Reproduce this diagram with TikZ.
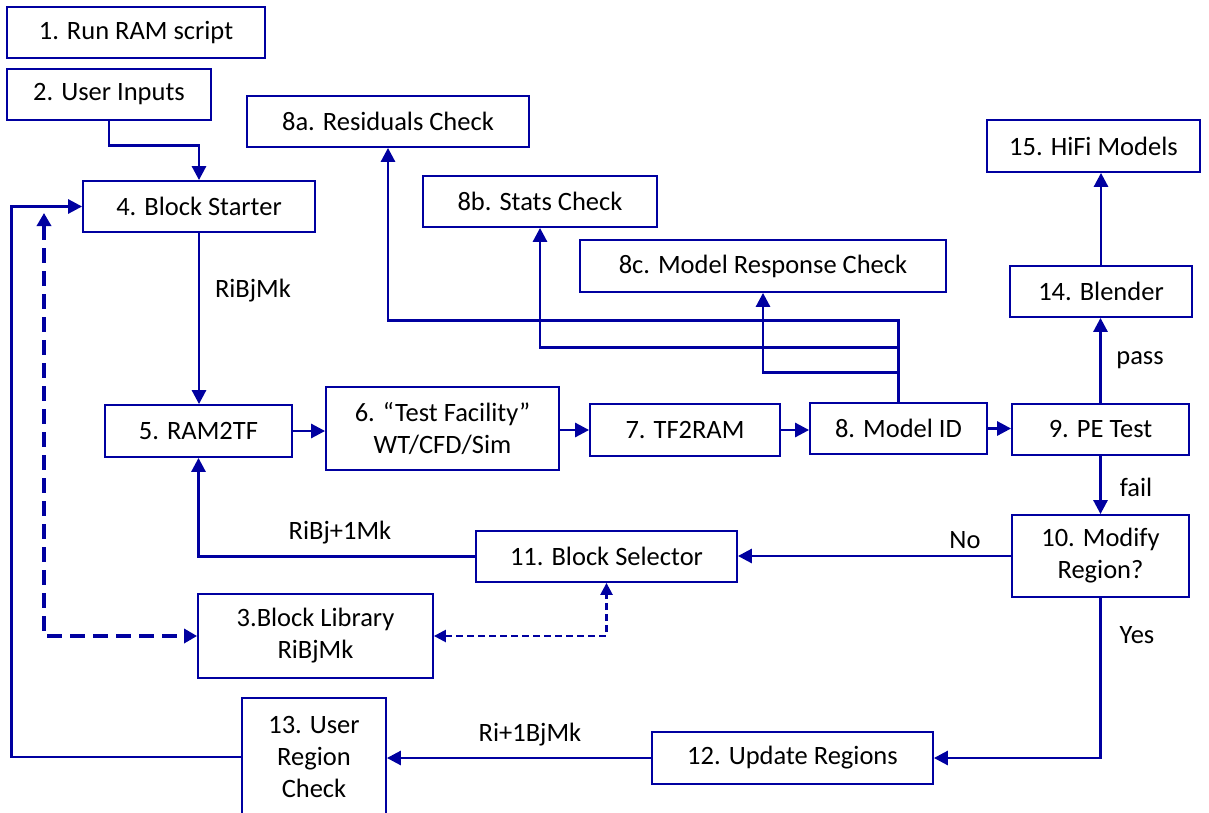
\documentclass[tikz,border=0pt]{standalone}
\usepackage{fontspec}
\setmainfont{Carlito}
\usetikzlibrary{arrows.meta}
\definecolor{flowblue}{RGB}{0,0,160}
\begin{document}
\begin{tikzpicture}[x=1pt,y=-1pt]
                \tikzstyle{every node}+=[font=\fontsize{26.5}{32}\selectfont, inner sep=0pt]
                \tikzstyle{box}=[draw=flowblue, line width=1.8pt, align=center]
                \tikzstyle{flow}=[draw=flowblue, line width=2.8pt, -{Triangle[length=14pt,width=14pt]}]
                \tikzstyle{libdash}=[draw=flowblue, line width=4.5pt, dash pattern=on 15pt off 8pt, {Triangle[length=13pt,width=14pt]}-{Triangle[length=13pt,width=14pt]}]
                \tikzstyle{seldash}=[draw=flowblue, line width=2.4pt, dash pattern=on 7pt off 4pt, {Triangle[length=12pt,width=12pt]}-{Triangle[length=12pt,width=12pt]}]
                \useasboundingbox (0,0) rectangle (1209,813);
                % boxes
                \node[box, minimum width=258, minimum height=51] (b1) at (136,32.5) {1. Run RAM script};
                \node[box, minimum width=204, minimum height=51] (b2) at (109,94.5) {2. User Inputs};
                \node[box, minimum width=282, minimum height=51] (b8a) at (388,121.5) {8a. Residuals Check};
                \node[box, minimum width=213, minimum height=52] (b15) at (1093.5,146) {15. HiFi Models};
                \node[box, minimum width=232, minimum height=51] (b4) at (199,206.5) {4. Block Starter};
                \node[box, minimum width=234, minimum height=51] (b8b) at (540,201.5) {8b. Stats Check};
                \node[box, minimum width=366, minimum height=52] (b8c) at (763,266) {8c. Model Response Check};
                \node[box, minimum width=182, minimum height=51] (b14) at (1101,291.5) {14. Blender};
                \node[box, minimum width=187, minimum height=52] (b5) at (198.5,431) {5. RAM2TF};
                \node[box, minimum width=233, minimum height=83] (b6) at (442.5,428.5) {6. “Test Facility”\\WT/CFD/Sim};
                \node[box, minimum width=190, minimum height=52] (b7) at (685,430) {7. TF2RAM};
                \node[box, minimum width=177, minimum height=51] (b8) at (898.5,428.5) {8. Model ID};
                \node[box, minimum width=177, minimum height=51] (b9) at (1100.5,429.5) {9. PE Test};
                \node[box, minimum width=177, minimum height=82] (b10) at (1100.5,556) {10. Modify\\Region?};
                \node[box, minimum width=261, minimum height=51] (b11) at (606.5,556.5) {11. Block Selector};
                \node[box, minimum width=235, minimum height=84] (b3) at (315.5,636) {3.Block Library\\RiBjMk};
                \node[box, minimum width=144, minimum height=118] (b13) at (314,757) {13. User\\Region\\Check};
                \node[box, minimum width=281, minimum height=52] (b12) at (792.5,758) {12. Update Regions};
                % labels
                \node (lstart) at (253,291) {RiBjMk};
                \node (lnextb) at (340,533) {RiBj+1Mk};
                \node (lnextr) at (530,735) {Ri+1BjMk};
                \node (lpass) at (1140,360) {pass};
                \node (lfail) at (1136,487) {fail};
                \node (lno) at (965,540) {No};
                \node (lyes) at (1137,635) {Yes};
                % connectors
                \draw[flow] (b2.south) -- ++(0,25) -| (b4.north);
                \draw[flow] (b4.south) -- (b4.south |- b5.north);
                \draw[flow] (b5.east) -- (b5.east -| b6.west);
                \draw[flow] (b6.east |- b7.west) -- (b7.west);
                \draw[flow] (b7.east) -- (b7.east -| b8.west);
                \draw[flow] (b8.east) -- (b8.east -| b9.west);
                \draw[flow] (b8.north) -- ++(0,-82) -| (b8a.south);
                \draw[flow] (b8.north) -- ++(0,-55) -| (b8b.south);
                \draw[flow] (b8.north) -- ++(0,-30) -| (b8c.south);
                \draw[flow] (b9.north) -- (b9.north |- b14.south);
                \draw[flow] (b14.north) -- (b14.north |- b15.south);
                \draw[flow] (b9.south) -- (b10.north);
                \draw[flow] (b10.west) -- (b10.west -| b11.east);
                \draw[flow] (b11.west) -| (b5.south);
                \draw[flow] (b10.south) |- (b12.east);
                \draw[flow] (b12.west) -- (b12.west -| b13.east);
                \draw[flow] (b13.west) -- ++(-230,0) |- (b4.west);
                \coordinate (libtop) at (44,213);
                \draw[libdash] (libtop) |- (b3.west);
                \draw[seldash] (b3.east) -| (b11.south);
            \end{tikzpicture}
\end{document}
